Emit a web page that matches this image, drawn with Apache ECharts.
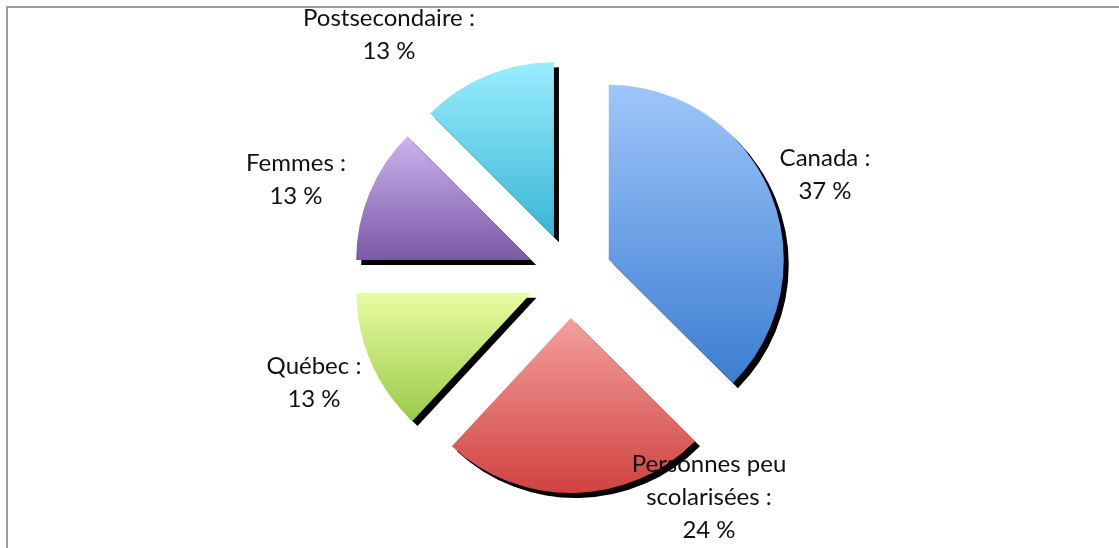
<!DOCTYPE html>
<html>
<head>
	<meta charset="utf-8">
	<title></title>
	<style>
		html, body { margin: 0; padding: 0; background: #fff; overflow: hidden; }
		#frame { position: absolute; left: 6px; top: 6px; width: 1200px; height: 600px; border-top: 2px solid #9b9b9b; border-left: 2px solid #9b9b9b; }
		#box_1 { position: absolute; left: 0; top: 0; width: 1119px; height: 548px; }
	</style>
</head>
<body>
	<div id="frame"></div>
	<div id="box_1"></div>
</body>
<script src="https://cdn.jsdelivr.net/npm/echarts@6/dist/echarts.min.js"></script>
<script>
	var categories = ['Canada', 'Personnes peu scolarisées', 'Québec', 'Femmes', 'Postsecondaire']
	var values = [37.45, 24.45, 13.1, 12.5, 12.5]
	// couleurs haut / bas du dégradé
	var topColors = ['#9fc6fb', '#f4a09e', '#e8fca2', '#cab4ee', '#9aedfd']
	var bottomColors = ['#3b7dd0', '#cf4340', '#9aca48', '#7b58a6', '#38b6d5']

	var center = [570, 276]
	// position des étiquettes par rapport au centre du camembert
	var labelOffsets = [[255, -101], [139, 221], [-256, 107], [-274, -96], [-181, -241]]

	var myChart = echarts.init(document.getElementById('box_1'))
	var pieData = []
	var labels = []
	for (var i = 0; i < values.length; i++) {
		pieData.push({
			name: categories[i],
			value: values[i],
			selected: true,
			itemStyle: {
				color: new echarts.graphic.LinearGradient(0, 0, 0, 1, [
					{offset: 0, color: topColors[i]},
					{offset: 1, color: bottomColors[i]}
				])
			}
		})
		labels.push({
			type: 'text',
			z: 100,
			x: center[0] + labelOffsets[i][0],
			y: center[1] + labelOffsets[i][1],
			style: {
				text: categories[i].replace(' scolarisées', '\nscolarisées') + ' :\n' + Math.round(values[i]) + ' %',
				fill: '#111',
				fontFamily: 'Lato',
				fontSize: 24,
				lineHeight: 33,
				align: 'center',
				textAlign: 'center',
				verticalAlign: 'middle',
				textVerticalAlign: 'middle'
			}
		})
	}
	var option = {
		animation: false,
		graphic: labels,
		series: [{
			type: 'pie',
			center: center,
			radius: 175,
			startAngle: 90,
			clockwise: true,
			selectedMode: 'multiple',
			selectedOffset: 42,
			data: pieData,
			itemStyle: {
				shadowColor: '#000',
				shadowBlur: 0,
				shadowOffsetX: 5,
				shadowOffsetY: 5
			},
			emphasis: { disabled: true },
			label: { show: false },
			labelLine: { show: false }
		}]
	}
	myChart.setOption(option)
</script>
</html>
